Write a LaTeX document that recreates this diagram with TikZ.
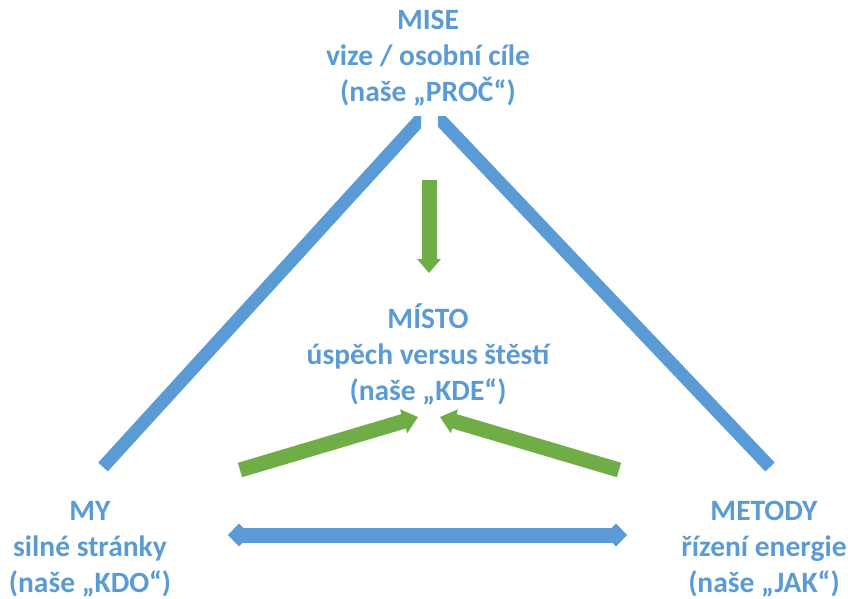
\documentclass[tikz,border=0pt]{standalone}
\usepackage{fontspec}
\setmainfont{Carlito}
\usetikzlibrary{arrows.meta}
\definecolor{cblue}{RGB}{91,155,213}
\definecolor{cgreen}{RGB}{112,173,71}
\tikzset{
  lbl/.style={text=cblue, font=\fontsize{29.5}{36}\selectfont\bfseries, align=center, inner sep=0pt},
  blueline/.style={draw=cblue, line width=13pt},
  greenarrow/.style={draw=cgreen, line width=15pt, -{Triangle[width=24pt,length=15pt]}},
  bluedouble/.style={draw=cblue, line width=15pt, {Kite[length=22pt,width=23pt,inset=11pt]}-{Kite[length=22pt,width=23pt,inset=11pt]}}
}
\begin{document}
\begin{tikzpicture}[x=1pt,y=-1pt]
\useasboundingbox (0,0) rectangle (848,599);
\node[lbl] (mise) at (428,58) {MISE\\vize / osobní cíle\\(naše „PROČ“)};
\node[lbl] (misto) at (428,354) {MÍSTO\\úspěch versus štěstí\\(naše „KDE“)};
\node[lbl] (my) at (90,549) {MY\\silné stránky\\(naše „KDO“)};
\node[lbl] (metody) at (764,549) {METODY\\řízení energie\\(naše „JAK“)};
% blue diagonals
\coordinate (myT) at (103,467);
\coordinate (miseL) at (428,111);
\coordinate (metT) at (770,467);
\coordinate (miseR) at (432,111);
\begin{scope}
\clip (0,117) rectangle (421,599);
\draw[blueline, -{Triangle[width=22pt,length=12pt]}] (myT) -- (miseL);
\end{scope}
\begin{scope}
\clip (438,117) rectangle (848,599);
\draw[blueline, -{Triangle[width=22pt,length=12pt]}] (metT) -- (miseR);
\end{scope}
% bottom double arrow
\coordinate (dl) at (228,535);
\coordinate (dr) at (627,535);
\draw[bluedouble] (dl) -- (dr);
% green arrows
\coordinate (gt) at (429,180);
\coordinate (gb) at (429,273);
\draw[greenarrow, -{Triangle[width=23pt,length=14pt]}] (gt) -- (gb);
\coordinate (gl) at (240,470);
\coordinate (glh) at (418,417);
\draw[greenarrow] (gl) -- (glh);
\coordinate (gr) at (619,470);
\coordinate (grh) at (440,417);
\draw[greenarrow] (gr) -- (grh);
\end{tikzpicture}
\end{document}
